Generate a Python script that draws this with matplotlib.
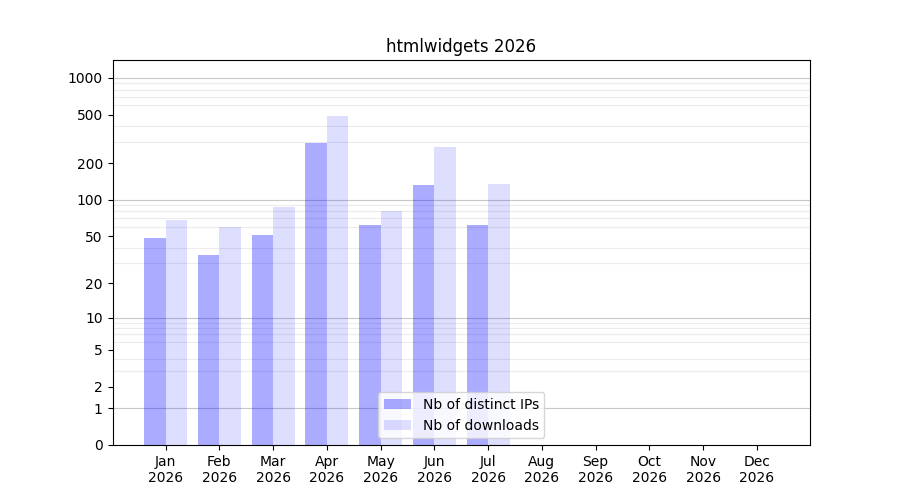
import numpy as np
import matplotlib
matplotlib.use("Agg")
import matplotlib.pyplot as plt

months = ["Jan", "Feb", "Mar", "Apr", "May", "Jun", "Jul", "Aug", "Sep", "Oct", "Nov", "Dec"]
year = 2026
distinct_ips = [48, 35, 51, 294, 62, 133, 62, 0, 0, 0, 0, 0]
downloads = [68, 59, 87, 492, 81, 272, 135, 0, 0, 0, 0, 0]
ytick_values = [0, 1, 2, 5, 10, 20, 50, 100, 200, 500, 1000]

fig, ax = plt.subplots(figsize=(9, 5), dpi=100)

# log(1 + x) scale so zero still shows up
ax.set_yscale("function", functions=(lambda v: np.log10(np.clip(v, -0.999, None) + 1),
                                      lambda u: 10 ** u - 1))

x = np.arange(len(months))
width = 0.4
ax.bar(x - width / 2, distinct_ips, width, color="blue", alpha=0.33, label="Nb of distinct IPs")
ax.bar(x + width / 2, downloads, width, color="blue", alpha=0.13, label="Nb of downloads")

ax.set_ylim(0, 1400)
ax.set_yticks(ytick_values)
ax.set_yticklabels([str(v) for v in ytick_values])

minor = [m * 10 ** d for d in range(0, 4) for m in range(2, 10) if m * 10 ** d < 1400]
ax.set_yticks(minor, minor=True)
ax.tick_params(axis="y", which="minor", length=0)
ax.yaxis.grid(True, which="minor", color="#ececec", linewidth=0.8)
for d in [1, 10, 100, 1000]:
    ax.axhline(d, color="#c8c8c8", linewidth=0.8, zorder=0.5)
ax.set_axisbelow(True)

ax.set_xticks(x)
ax.set_xticklabels([f"{m}\n{year}" for m in months])
ax.set_title(f"htmlwidgets {year}")
ax.legend(loc="lower center")

fig.savefig("out.png", dpi=100)
